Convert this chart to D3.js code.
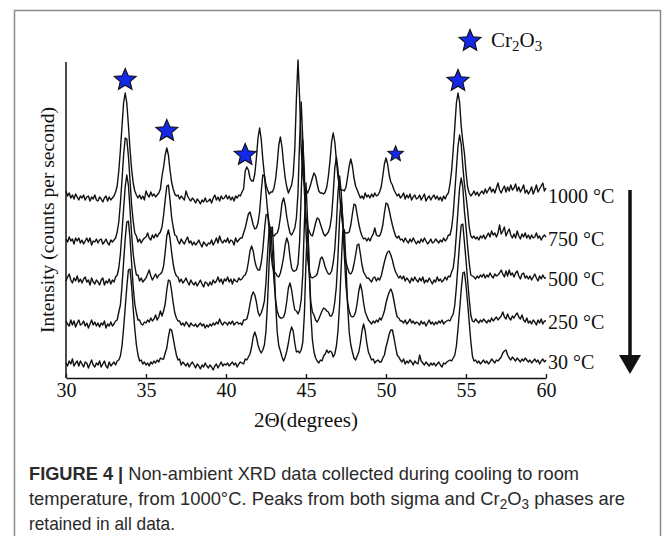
<!DOCTYPE html>
<html>
<head>
<meta charset="utf-8">
<script src="https://cdn.jsdelivr.net/npm/d3@7"></script>
<style>
  body { margin: 0; background: #fff; }
  svg { display: block; }
</style>
</head>
<body>
<svg id="chart" width="669" height="536"></svg>
<script>
// 2θ grid: 30.0 .. 60.0 in 0.1 steps
const angleStart = 30;
const angleStep = 0.1;
const xTicks = [30, 35, 40, 45, 50, 55, 60];
const tempLabels = ["1000 \u00B0C", "750 \u00B0C", "500 \u00B0C", "250 \u00B0C", "30 \u00B0C"];
const offsets = [171, 128, 88, 45, 5];

// Cr2O3 markers (angle, intensity level incl. offset, radius)
const starAngles = [33.7, 36.3, 41.2, 50.6, 54.5];
const starLevels = [298, 247, 223, 224, 297];
const starRadius = [11.5, 11.5, 11.5, 8, 11.5];

// counts per 0.1 degree, one row per degree
const i1000 = [
  16, 11, 14, 9, 12, 8, 13, 10, 7, 11,
  9, 12, 7, 10, 11, 6, 10, 8, 12, 7,
  6, 10, 8, 5, 9, 11, 6, 10, 7, 9,
  11, 15, 21, 36, 57, 81, 104, 114, 104, 82,
  58, 38, 24, 16, 12, 9, 12, 8, 11, 7,
  16, 12, 10, 15, 11, 13, 10, 12, 14, 18,
  31, 40, 52, 59, 52, 37, 25, 18, 13, 11,
  12, 8, 11, 9, 7, 16, 11, 8, 6, 9,
  7, 4, 8, 6, 3, 7, 5, 9, 5, 6,
  8, 4, 9, 12, 7, 10, 6, 11, 8, 9,
  12, 8, 11, 7, 10, 6, 11, 9, 12, 11,
  15, 18, 36, 40, 37, 29, 26, 26, 33, 49,
  69, 79, 68, 48, 32, 22, 17, 13, 15, 15,
  19, 28, 43, 62, 70, 60, 43, 29, 20, 14,
  18, 22, 32, 58, 108, 147, 109, 59, 32, 21,
  17, 14, 18, 23, 29, 34, 31, 23, 16, 14,
  14, 13, 15, 20, 31, 46, 65, 74, 65, 47,
  30, 19, 17, 17, 16, 20, 30, 41, 48, 41,
  29, 21, 17, 13, 9, 11, 8, 14, 10, 12,
  9, 13, 10, 14, 11, 12, 15, 20, 31, 43,
  49, 43, 32, 25, 22, 17, 14, 11, 13, 9,
  11, 14, 8, 12, 9, 13, 7, 10, 12, 8,
  9, 12, 7, 10, 13, 6, 9, 11, 7, 10,
  12, 8, 11, 7, 10, 6, 11, 8, 12, 14,
  23, 36, 57, 80, 104, 114, 105, 81, 66, 54,
  35, 20, 14, 11, 13, 16, 12, 15, 11, 14,
  16, 13, 18, 14, 17, 20, 15, 18, 14, 19,
  24, 17, 14, 18, 21, 15, 20, 16, 22, 17,
  19, 23, 16, 20, 15, 18, 22, 14, 17, 13,
  16, 20, 13, 17, 22, 15, 18, 21, 24, 16,
  19
];
const i750 = [
  11, 8, 13, 9, 11, 6, 12, 9, 12, 7,
  10, 6, 9, 12, 8, 12, 5, 9, 8, 11,
  7, 10, 11, 6, 8, 11, 7, 5, 10, 8,
  10, 12, 18, 28, 47, 70, 95, 112, 111, 94,
  70, 45, 29, 17, 14, 8, 11, 7, 10, 12,
  13, 17, 12, 10, 15, 12, 16, 13, 16, 18,
  23, 35, 50, 64, 65, 50, 33, 23, 15, 14,
  9, 6, 11, 8, 6, 10, 13, 7, 9, 5,
  8, 5, 7, 10, 6, 3, 8, 6, 4, 7,
  6, 10, 5, 8, 12, 7, 14, 9, 7, 10,
  8, 12, 7, 10, 9, 5, 12, 8, 10, 12,
  12, 17, 22, 29, 36, 38, 32, 25, 21, 22,
  27, 38, 58, 75, 74, 57, 39, 26, 20, 15,
  14, 16, 17, 22, 33, 47, 52, 45, 33, 24,
  17, 15, 18, 22, 32, 57, 109, 148, 110, 58,
  32, 23, 19, 15, 14, 20, 27, 32, 31, 26,
  21, 16, 14, 16, 18, 23, 34, 56, 82, 93,
  80, 56, 36, 24, 18, 17, 17, 18, 25, 36,
  46, 45, 35, 26, 19, 14, 11, 12, 9, 12,
  9, 13, 16, 22, 15, 14, 14, 18, 25, 37,
  47, 46, 40, 32, 25, 19, 14, 12, 14, 10,
  11, 8, 12, 9, 7, 11, 8, 12, 9, 6,
  9, 7, 11, 8, 12, 9, 6, 8, 11, 7,
  8, 11, 9, 7, 10, 8, 12, 9, 11, 15,
  15, 22, 36, 58, 81, 104, 115, 106, 84, 66,
  54, 40, 23, 14, 12, 14, 11, 13, 10, 14,
  12, 15, 11, 14, 17, 13, 19, 15, 17, 13,
  17, 25, 16, 19, 23, 14, 18, 21, 15, 12,
  16, 12, 19, 14, 11, 16, 13, 17, 12, 15,
  11, 15, 12, 13, 17, 12, 14, 10, 13, 15,
  13
];
const i500 = [
  9, 13, 16, 10, 7, 12, 9, 14, 8, 11,
  7, 11, 13, 8, 10, 5, 12, 8, 6, 10,
  8, 5, 10, 12, 5, 9, 7, 11, 6, 10,
  8, 13, 15, 22, 36, 58, 81, 103, 115, 105,
  81, 56, 36, 24, 15, 15, 9, 12, 8, 10,
  12, 16, 20, 14, 10, 13, 16, 12, 15, 16,
  18, 24, 38, 54, 60, 52, 38, 26, 18, 14,
  13, 8, 11, 7, 9, 12, 8, 5, 10, 7,
  5, 8, 4, 7, 10, 6, 3, 8, 7, 4,
  8, 5, 10, 7, 9, 13, 8, 11, 6, 11,
  9, 13, 8, 11, 6, 11, 9, 8, 12, 10,
  11, 14, 15, 19, 28, 39, 44, 39, 29, 23,
  20, 20, 27, 40, 59, 75, 76, 60, 39, 24,
  18, 17, 14, 13, 17, 24, 33, 45, 52, 47,
  33, 22, 19, 19, 20, 26, 48, 96, 150, 117,
  58, 31, 19, 13, 12, 13, 14, 16, 23, 31,
  33, 29, 23, 19, 16, 16, 19, 27, 41, 66,
  98, 114, 98, 66, 41, 28, 22, 17, 16, 19,
  26, 35, 45, 46, 36, 25, 18, 15, 12, 12,
  10, 8, 12, 13, 9, 12, 10, 14, 21, 28,
  34, 38, 39, 35, 30, 23, 18, 15, 12, 14,
  11, 14, 9, 12, 10, 7, 12, 9, 13, 10,
  8, 12, 9, 13, 7, 10, 8, 12, 9, 6,
  10, 8, 13, 9, 11, 8, 10, 13, 10, 14,
  13, 18, 22, 35, 56, 80, 102, 112, 103, 79,
  63, 44, 27, 15, 14, 13, 11, 14, 12, 15,
  13, 16, 12, 15, 13, 17, 14, 12, 16, 14,
  15, 17, 20, 16, 13, 19, 14, 20, 15, 17,
  13, 17, 19, 14, 11, 16, 17, 12, 14, 11,
  14, 10, 13, 16, 12, 9, 14, 11, 15, 12,
  12
];
const i250 = [
  12, 9, 7, 13, 8, 12, 6, 10, 13, 8,
  9, 12, 7, 10, 5, 9, 13, 8, 11, 7,
  10, 6, 10, 8, 12, 5, 9, 7, 11, 7,
  9, 12, 13, 21, 28, 47, 71, 94, 111, 112,
  95, 70, 46, 29, 20, 13, 13, 9, 8, 11,
  10, 13, 11, 15, 12, 14, 18, 13, 16, 22,
  17, 22, 29, 43, 53, 52, 42, 30, 20, 15,
  12, 12, 8, 10, 7, 11, 9, 6, 10, 8,
  7, 9, 6, 8, 10, 7, 9, 5, 8, 6,
  9, 7, 10, 8, 11, 9, 14, 10, 8, 11,
  10, 8, 11, 9, 12, 8, 10, 11, 9, 10,
  8, 13, 13, 14, 20, 29, 37, 41, 38, 31,
  21, 17, 20, 25, 32, 51, 80, 105, 104, 79,
  52, 33, 22, 17, 15, 15, 16, 21, 32, 45,
  50, 43, 32, 23, 22, 19, 23, 33, 59, 110,
  150, 112, 59, 31, 21, 18, 13, 11, 14, 18,
  22, 25, 24, 22, 21, 17, 17, 21, 31, 47,
  77, 115, 134, 115, 77, 47, 31, 22, 17, 16,
  17, 21, 30, 42, 49, 42, 30, 21, 17, 13,
  11, 9, 12, 10, 13, 11, 15, 13, 17, 22,
  30, 36, 41, 44, 40, 32, 23, 16, 15, 12,
  12, 10, 13, 9, 11, 14, 10, 12, 9, 11,
  10, 8, 12, 9, 11, 7, 10, 13, 9, 11,
  8, 11, 9, 12, 10, 13, 9, 11, 12, 13,
  12, 16, 19, 28, 46, 68, 90, 108, 109, 91,
  73, 53, 34, 18, 12, 11, 14, 12, 10, 13,
  11, 14, 12, 10, 13, 11, 15, 12, 14, 16,
  13, 15, 17, 21, 16, 14, 19, 15, 13, 17,
  15, 18, 20, 16, 14, 18, 13, 11, 15, 10,
  12, 9, 13, 11, 8, 13, 10, 14, 9, 12,
  12
];
const i30 = [
  10, 7, 12, 9, 14, 7, 10, 12, 7, 12,
  9, 6, 11, 10, 5, 9, 13, 8, 6, 10,
  8, 12, 6, 9, 12, 7, 5, 11, 7, 9,
  11, 8, 12, 13, 17, 27, 45, 65, 86, 103,
  104, 87, 64, 44, 28, 18, 12, 13, 9, 11,
  8, 10, 7, 11, 9, 12, 10, 13, 11, 15,
  14, 14, 20, 25, 36, 44, 43, 35, 26, 18,
  13, 14, 8, 11, 9, 7, 10, 6, 9, 11,
  8, 5, 9, 7, 4, 8, 6, 10, 7, 5,
  8, 6, 3, 7, 9, 5, 8, 11, 7, 9,
  8, 10, 7, 9, 11, 8, 10, 6, 9, 11,
  10, 9, 14, 13, 16, 19, 26, 36, 41, 36,
  28, 23, 20, 23, 28, 42, 72, 112, 145, 146,
  113, 71, 41, 27, 22, 16, 12, 16, 22, 30,
  40, 46, 42, 30, 21, 22, 20, 23, 31, 59,
  112, 150, 110, 59, 33, 21, 15, 12, 10, 13,
  12, 17, 19, 23, 20, 22, 21, 16, 19, 27,
  42, 69, 107, 142, 143, 108, 68, 41, 28, 21,
  15, 13, 17, 21, 30, 42, 49, 42, 30, 21,
  17, 13, 14, 10, 12, 13, 11, 11, 15, 18,
  26, 32, 39, 43, 43, 35, 26, 18, 16, 13,
  11, 14, 9, 12, 10, 13, 11, 8, 12, 10,
  9, 18, 12, 10, 8, 11, 9, 7, 10, 8,
  10, 7, 9, 11, 8, 6, 10, 9, 11, 12,
  13, 12, 15, 18, 27, 44, 63, 83, 100, 101,
  88, 70, 51, 32, 17, 12, 13, 10, 12, 9,
  11, 13, 10, 12, 9, 11, 14, 12, 10, 13,
  12, 14, 16, 20, 22, 23, 18, 15, 13, 16,
  14, 12, 15, 13, 11, 14, 12, 15, 13, 11,
  13, 10, 12, 14, 11, 13, 9, 12, 14, 11,
  13
];

const scans = [i1000, i750, i500, i250, i30];

const svg = d3.select("#chart");
const serif = "'Liberation Serif', 'Times New Roman', serif";

// figure frame
svg.append("rect")
  .attr("x", 14.5).attr("y", 10.5)
  .attr("width", 646).attr("height", 560)
  .attr("fill", "none")
  .attr("stroke", "#8c8c8c")
  .attr("stroke-width", 1.5);

const x = d3.scaleLinear().domain([30, 60]).range([66, 546]);
const y = d3.scaleLinear().domain([0, 320]).range([378, 58]);

const line = d3.line()
  .x((d, i) => x(angleStart + i * angleStep))
  .y(d => y(d));

scans.forEach((scan, k) => {
  svg.append("path")
    .datum(scan.map(v => v + offsets[k]))
    .attr("fill", "none")
    .attr("stroke", "#111")
    .attr("stroke-width", 1.4)
    .attr("stroke-linejoin", "round")
    .attr("d", line);

  svg.append("text")
    .attr("x", x(60) + 2)
    .attr("y", y(offsets[k] + 10) + 6)
    .attr("font-family", serif)
    .attr("font-size", 20)
    .attr("fill", "#111")
    .text(tempLabels[k]);
});

// axes
const xAxis = svg.append("g")
  .attr("transform", `translate(0,${y(0)})`)
  .call(d3.axisBottom(x).tickValues(xTicks).tickSizeInner(-4).tickSizeOuter(0).tickPadding(5));
xAxis.select(".domain").attr("stroke", "#111").attr("stroke-width", 1.5);
xAxis.selectAll(".tick line").attr("stroke", "#111").attr("stroke-width", 1.3);
xAxis.selectAll(".tick text")
  .attr("font-family", serif)
  .attr("font-size", 20)
  .attr("fill", "#111");

svg.append("line")
  .attr("x1", x(30)).attr("x2", x(30))
  .attr("y1", y(0)).attr("y2", y(316))
  .attr("stroke", "#111")
  .attr("stroke-width", 1.5);

svg.append("text")
  .attr("x", x(45))
  .attr("y", 427)
  .attr("text-anchor", "middle")
  .attr("font-family", serif)
  .attr("font-size", 21)
  .attr("fill", "#111")
  .text("2\u0398(degrees)");

svg.append("text")
  .attr("transform", "translate(54,220) rotate(-90)")
  .attr("text-anchor", "middle")
  .attr("font-family", serif)
  .attr("font-size", 19.5)
  .attr("fill", "#111")
  .text("Intensity (counts per second)");

// stars
function starPath(r) {
  const pts = d3.range(10).map(i => {
    const a = -Math.PI / 2 + i * Math.PI / 5;
    const rr = i % 2 ? r * 0.45 : r;
    return [rr * Math.cos(a), rr * Math.sin(a)];
  });
  return "M" + pts.join("L") + "Z";
}

svg.selectAll(".star")
  .data(starAngles)
  .join("path")
  .attr("class", "star")
  .attr("transform", (d, i) => `translate(${x(d)},${y(starLevels[i])})`)
  .attr("d", (d, i) => starPath(starRadius[i]))
  .attr("fill", "#1428e8")
  .attr("stroke", "#111")
  .attr("stroke-width", 1.1);

// legend
svg.append("path")
  .attr("transform", "translate(470,41)")
  .attr("d", starPath(11.5))
  .attr("fill", "#1428e8")
  .attr("stroke", "#111")
  .attr("stroke-width", 1.1);

const leg = svg.append("text")
  .attr("x", 491).attr("y", 47)
  .attr("font-family", serif)
  .attr("font-size", 21)
  .attr("fill", "#111");
leg.append("tspan").text("Cr");
leg.append("tspan").attr("font-size", 15).attr("dy", 4).text("2");
leg.append("tspan").attr("dy", -4).text("O");
leg.append("tspan").attr("font-size", 15).attr("dy", 4).text("3");

// cooling arrow
svg.append("line")
  .attr("x1", 630).attr("x2", 630)
  .attr("y1", 190).attr("y2", 356)
  .attr("stroke", "#111")
  .attr("stroke-width", 3.5);
svg.append("path")
  .attr("d", "M619,355L641,355L630,374Z")
  .attr("fill", "#111");

// caption
const sans = "'Liberation Sans Narrow', 'Arial Narrow', 'Liberation Sans', Arial, sans-serif";
const cap1 = svg.append("text")
  .attr("x", 29).attr("y", 480)
  .attr("font-family", sans).attr("font-size", 19).attr("fill", "#2a2a2a")
  .attr("textLength", 550).attr("lengthAdjust", "spacingAndGlyphs");
cap1.append("tspan").attr("font-weight", "bold").text("FIGURE 4 | ");
cap1.append("tspan").text("Non-ambient XRD data collected during cooling to room");

const cap2 = svg.append("text")
  .attr("x", 29).attr("y", 505)
  .attr("font-family", sans).attr("font-size", 19).attr("fill", "#2a2a2a")
  .attr("textLength", 596).attr("lengthAdjust", "spacingAndGlyphs");
cap2.append("tspan").text("temperature, from 1000\u00B0C. Peaks from both sigma and Cr");
cap2.append("tspan").attr("font-size", 14).attr("dy", 4).text("2");
cap2.append("tspan").attr("dy", -4).text("O");
cap2.append("tspan").attr("font-size", 14).attr("dy", 4).text("3");
cap2.append("tspan").attr("dy", -4).text(" phases are");

svg.append("text")
  .attr("x", 29).attr("y", 530)
  .attr("font-family", sans).attr("font-size", 19).attr("fill", "#2a2a2a")
  .attr("textLength", 146).attr("lengthAdjust", "spacingAndGlyphs")
  .text("retained in all data.");
</script>
</body>
</html>
